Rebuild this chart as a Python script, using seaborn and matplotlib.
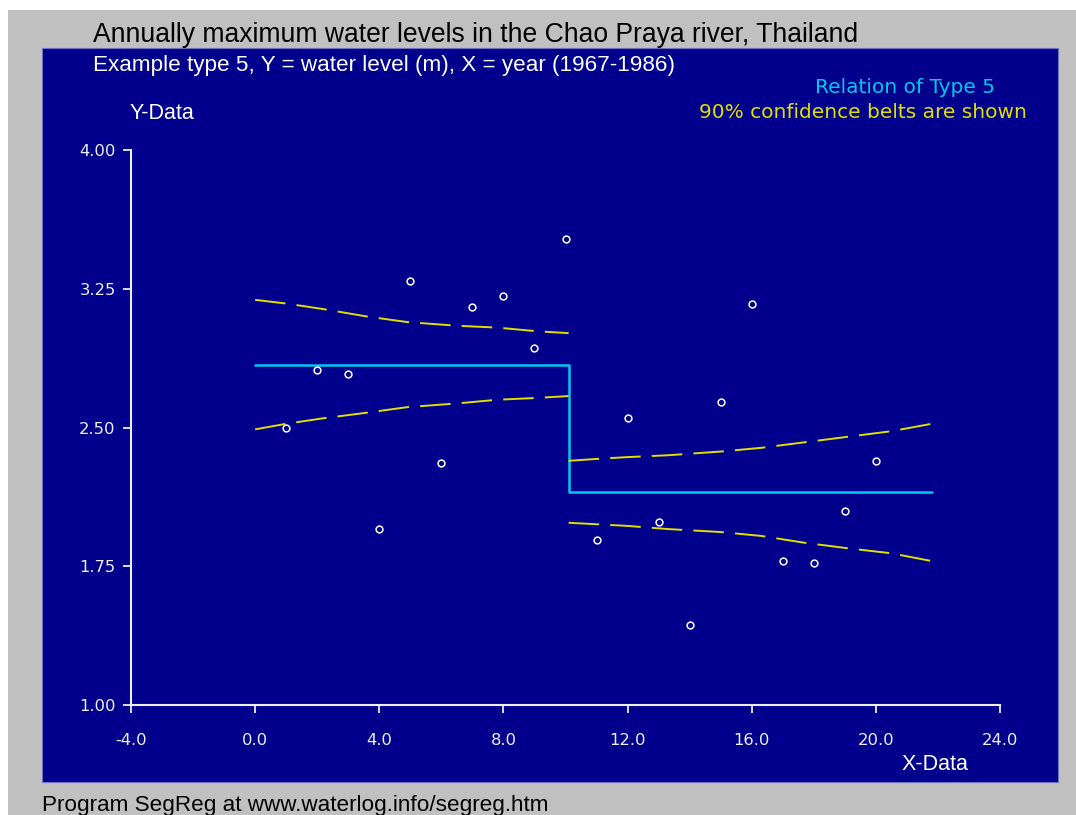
import matplotlib
matplotlib.use("Agg")
import matplotlib.pyplot as plt
import seaborn as sns
from matplotlib.patches import Rectangle

# ==========================================================
# Datos: niveles máximos anuales (1967-1986), X = año 1..20
# ==========================================================

years = list(range(1, 21))
levels = [2.50, 2.81, 2.79, 1.95, 3.29, 2.31, 3.15, 3.21, 2.93, 3.52,
          1.89, 2.55, 1.99, 1.43, 2.64, 3.17, 1.78, 1.77, 2.05, 2.32]

# relación tipo 5 (escalón)
step_x = [0.0, 10.1, 10.1, 21.8]
step_y = [2.84, 2.84, 2.15, 2.15]

# bandas de confianza 90%
belt_x_left = [0.0, 1.0, 2.2, 3.6, 4.9, 6.5, 7.8, 9.1, 10.1]
belt_up_left = [3.19, 3.17, 3.14, 3.10, 3.07, 3.05, 3.04, 3.02, 3.01]
belt_lo_left = [2.49, 2.52, 2.55, 2.58, 2.61, 2.63, 2.65, 2.66, 2.67]

belt_x_right = [10.1, 11.0, 12.0, 13.3, 15.0, 16.3, 17.7, 19.1, 20.5, 21.8]
belt_up_right = [2.32, 2.33, 2.34, 2.35, 2.37, 2.39, 2.42, 2.45, 2.48, 2.52]
belt_lo_right = [1.985, 1.977, 1.968, 1.951, 1.935, 1.914, 1.877, 1.847, 1.820, 1.778]

x_ticks = [-4, 0, 4, 8, 12, 16, 20, 24]
y_ticks = [1.00, 1.75, 2.50, 3.25, 4.00]

# ==========================================================
# Estilo
# ==========================================================

sns.set_theme(style="white")
plt.rcParams["font.family"] = ["DejaVu Sans"]
plt.rcParams["lines.scale_dashes"] = False

navy = "#00008c"
grey = "#c0c0c0"
cyan = "#00c8f0"
yellow = "#e0e000"
axis_col = "#eeeef6"

W, H = 1076, 815

fig = plt.figure(figsize=(W / 100, H / 100), dpi=100, facecolor=grey)

# franjas blancas y panel azul
fig.add_artist(Rectangle((0, 1 - 10 / H), 1, 10 / H, transform=fig.transFigure,
                         facecolor="white", edgecolor="none", zorder=-10))
fig.add_artist(Rectangle((0, 0), 8 / W, 1, transform=fig.transFigure,
                         facecolor="white", edgecolor="none", zorder=-10))
fig.add_artist(Rectangle((42 / W, 1 - 782 / H), (1058 - 42) / W, (782 - 48) / H,
                         transform=fig.transFigure, facecolor=navy,
                         edgecolor="#7070c0", linewidth=0.8, zorder=-9))

ax = fig.add_axes([131 / W, 1 - 705 / H, (1000 - 131) / W, (705 - 150) / H])
ax.set_facecolor("none")

# escalón
sns.lineplot(x=step_x, y=step_y, estimator=None, sort=False,
             color=cyan, linewidth=1.8, ax=ax)

# bandas
for bx, by in [(belt_x_left, belt_up_left), (belt_x_left, belt_lo_left),
               (belt_x_right, belt_up_right), (belt_x_right, belt_lo_right)]:
    sns.lineplot(x=bx, y=by, estimator=None, sort=False, color=yellow,
                 linewidth=1.4, linestyle=(0, (22, 8)), ax=ax)

# puntos
sns.scatterplot(x=years, y=levels, marker="o", s=24, color=navy,
                edgecolor="white", linewidth=1.1, ax=ax, zorder=5)

ax.set_xlim(-4, 24)
ax.set_ylim(1, 4)
ax.set_xticks(x_ticks)
ax.set_xticklabels([f"{v:.1f}" for v in x_ticks])
ax.set_yticks(y_ticks)
ax.set_yticklabels([f"{v:.2f}" for v in y_ticks])
ax.tick_params(axis="both", direction="out", length=6, width=1.3,
               bottom=True, left=True,
               color=axis_col, labelcolor=axis_col, labelsize=11.8)
ax.tick_params(axis="x", pad=14)
ax.tick_params(axis="y", pad=5)

for side in ["top", "right"]:
    ax.spines[side].set_visible(False)
for side in ["left", "bottom"]:
    ax.spines[side].set_color(axis_col)
    ax.spines[side].set_linewidth(1.5)

# ==========================================================
# Textos
# ==========================================================

sans = ["Liberation Sans", "DejaVu Sans"]

fig.text(93 / W, 1 - 42 / H,
         "Annually maximum water levels in the Chao Praya river, Thailand",
         ha="left", va="baseline", fontsize=19.1, color="black", family=sans)
fig.text(93 / W, 1 - 71 / H,
         "Example type 5, Y = water level (m), X = year (1967-1986)",
         ha="left", va="baseline", fontsize=16.2, color="white", family=sans)
fig.text(130 / W, 1 - 119 / H, "Y-Data", ha="left", va="baseline",
         fontsize=15.5, color="white", family=sans)
fig.text(935 / W, 1 - 770 / H, "X-Data", ha="center", va="baseline",
         fontsize=15.5, color="white", family=sans)
fig.text(995 / W, 1 - 93 / H, "Relation of Type 5", ha="right", va="baseline",
         fontsize=14.5, color=cyan)
fig.text(1027 / W, 1 - 118 / H, "90% confidence belts are shown", ha="right",
         va="baseline", fontsize=14.5, color=yellow)
fig.text(42 / W, 1 - 811 / H, "Program SegReg at www.waterlog.info/segreg.htm",
         ha="left", va="baseline", fontsize=16.2, color="black", family=sans)

fig.savefig("out.png", dpi=100, facecolor=fig.get_facecolor())
